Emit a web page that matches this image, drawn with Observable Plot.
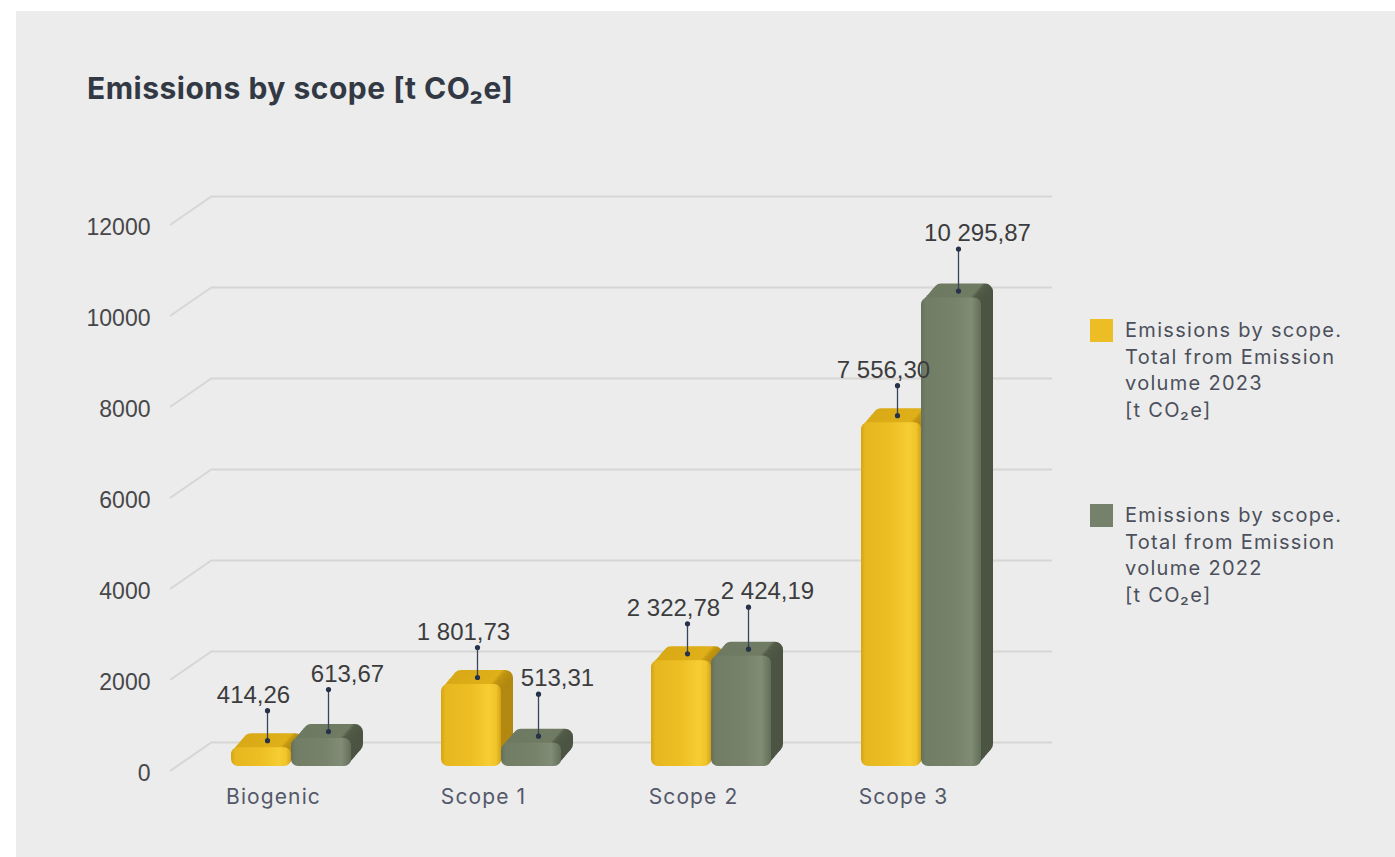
<!DOCTYPE html>
<html>
<head>
<meta charset="utf-8">
<script src="https://cdn.jsdelivr.net/npm/d3@7"></script>
<script src="https://cdn.jsdelivr.net/npm/@observablehq/plot@0.6"></script>
<style>
  html, body { margin: 0; padding: 0; background: #ffffff; }
  body { position: relative; width: 1395px; height: 857px; overflow: hidden; }
  #panel { position: absolute; left: 16px; top: 11px; width: 1379px; height: 846px; background: #ebeceb; }
  #title { position: absolute; left: 87px; top: 72px; font-family: Inter, "Open Sans", sans-serif; font-weight: 700; font-size: 30px; letter-spacing: 0.5px; line-height: 32px; color: #333944; white-space: nowrap; }
  #chart { position: absolute; left: 16px; top: 150px; }
  .legend-item { position: absolute; left: 1090px; display: flex; align-items: flex-start; }
  .swatch { width: 23px; height: 23px; margin-top: 2px; flex: none; }
  .legend-text { margin-left: 12px; font-family: Inter, "Open Sans", sans-serif; font-size: 20px; letter-spacing: 1.3px; line-height: 26.5px; color: #4b505c; width: 280px; white-space: nowrap; }
</style>
</head>
<body>
<div id="panel"></div>
<div id="title"></div>
<div id="chart"></div>
<div id="legend"></div>
<script>
// ---- data ----
const categories = ["Biogenic", "Scope 1", "Scope 2", "Scope 3"];
const values2023 = [414.26, 1801.73, 2322.78, 7556.30];
const values2022 = [613.67, 513.31, 2424.19, 10295.87];
const yTicks = [0, 2000, 4000, 6000, 8000, 10000, 12000];
const seriesNames = ["2023", "2022"];
const legendLines2023 = ["Emissions by scope.", "Total from Emission", "volume 2023", "[t CO₂e]"];
const legendLines2022 = ["Emissions by scope.", "Total from Emission", "volume 2022", "[t CO₂e]"];
const titleText = "Emissions by scope [t CO₂e]";

const rows2023 = categories.map((c, i) => ({category: c, series: seriesNames[0], value: values2023[i]}));
const rows2022 = categories.map((c, i) => ({category: c, series: seriesNames[1], value: values2022[i]}));

const fmt = d3.formatLocale({decimal: ",", thousands: " ", grouping: [3], currency: ["", ""]}).format(",.2f");

// ---- colours ----
const yellow = "#ecbd25";
const green = "#75816a";

document.getElementById("title").textContent = titleText;

// gradients definition (as a render-function mark)
function defsMark() {
  const g = d3.create("svg:g");
  const defs = g.append("defs");
  const grad = (id, stops) => {
    const lg = defs.append("linearGradient").attr("id", id).attr("x1", 0).attr("x2", 1).attr("y1", 0).attr("y2", 0);
    for (const [o, c] of stops) lg.append("stop").attr("offset", o).attr("stop-color", c);
  };
  grad("yFront", [[0, "#d5a414"], [0.07, "#e6b71f"], [0.5, "#edbf24"], [0.8, "#f6cd33"], [0.92, "#f0c42a"], [1, "#d2a214"]]);
  grad("yBack", [[0, "#d8a916"], [0.8, "#dfb018"], [0.86, "#c59810"], [1, "#b0860f"]]);
  grad("gFront", [[0, "#65715a"], [0.08, "#717d65"], [0.55, "#76826a"], [0.84, "#808c75"], [1, "#636e58"]]);
  grad("gBack", [[0, "#6d7961"], [0.8, "#6f7b63"], [0.86, "#535d49"], [1, "#4a5341"]]);
  return g.node();
}

// diagonal "depth" lines of the 3D grid
function diagonals(index, scales, values, dimensions) {
  const g = d3.create("svg:g");
  const x0 = dimensions.marginLeft - 16;
  for (const t of yTicks) {
    const yy = scales.y(t);
    g.append("line")
      .attr("x1", x0).attr("y1", yy)
      .attr("x2", dimensions.marginLeft + 26).attr("y2", yy - 29)
      .attr("stroke", "#d8d5d5").attr("stroke-width", 2);
  }
  return g.node();
}

// extruded bar: several offset copies for the depth, then the front face
const depthSteps = [1, 0.83, 0.67, 0.5, 0.33, 0.17];
const barSet = (rows, inL, inR, front, back) => [
  ...depthSteps.map(t => Plot.barY(rows, {x: "category", y: "value", insetLeft: inL, insetRight: inR,
    dx: 12 * t, dy: -5 - 14 * t, rx: 8, fill: back})),
  Plot.barY(rows, {x: "category", y: "value", insetLeft: inL, insetRight: inR, dx: 0, dy: -5, rx: 7, fill: front})
];

const leaderSet = (rows, dxDot, dxText, len) => [
  Plot.ruleX(rows, {x: "category", y1: "value", y2: "value", insetTop: -len, dx: dxDot, dy: -12, stroke: "#39435a", strokeWidth: 1.3}),
  Plot.dot(rows, {x: "category", y: "value", dx: dxDot, dy: -12, r: 2.6, fill: "#26324a", stroke: null}),
  Plot.dot(rows, {x: "category", y: "value", dx: dxDot, dy: -12 - len, r: 2.6, fill: "#26324a", stroke: null}),
  Plot.text(rows, {x: "category", y: "value", text: d => fmt(d.value), dx: dxText, dy: -20 - len, lineAnchor: "bottom",
    fontSize: 24, fontFamily: "Liberation Sans, Arial, sans-serif", fill: "#3c3c3e"})
];

const chart = Plot.plot({
  width: 1064,
  height: 680,
  marginLeft: 170,
  marginRight: 54,
  marginTop: 75,
  marginBottom: 59,
  style: {background: "transparent", overflow: "visible"},
  x: {type: "band", domain: categories, padding: 0, round: false},
  y: {domain: [0, 12000], range: [621, 75]},
  marks: [
    defsMark,
    Plot.ruleY(yTicks, {dx: 26, dy: -29, stroke: "#d8d5d5", strokeWidth: 2}),
    diagonals,
    ...barSet(rows2023, 45, 105, "url(#yFront)", "url(#yBack)"),
    ...barSet(rows2022, 105, 45, "url(#gFront)", "url(#gBack)"),
    ...leaderSet(rows2023, -24, -38, 30),
    ...leaderSet(rows2022, 37, 56, 42),
    Plot.axisY(yTicks, {tickSize: 0, tickPadding: 36, dy: 2, tickFormat: d => String(d), fontSize: 23,
      fontFamily: "Liberation Sans, Arial, sans-serif", fill: "#47474a", label: null}),
    Plot.axisX({tickSize: 0, tickPadding: 18, dx: -18, fontSize: 21, fontFamily: "Inter, Open Sans, sans-serif",
      fill: "#54586a", label: null})
  ]
});
document.getElementById("chart").appendChild(chart);
chart.querySelectorAll('[aria-label="x-axis tick label"] text').forEach(t => t.setAttribute("letter-spacing", "1.1"));

// ---- legend ----
const legend = document.getElementById("legend");
[[yellow, legendLines2023, 317], [green, legendLines2022, 502]].forEach(([col, lines, top]) => {
  const item = document.createElement("div");
  item.className = "legend-item";
  item.style.top = top + "px";
  const sw = document.createElement("div");
  sw.className = "swatch";
  sw.style.background = col;
  const tx = document.createElement("div");
  tx.className = "legend-text";
  lines.forEach(l => { const d = document.createElement("div"); d.textContent = l; tx.appendChild(d); });
  item.appendChild(sw);
  item.appendChild(tx);
  legend.appendChild(item);
});
</script>
</body>
</html>
